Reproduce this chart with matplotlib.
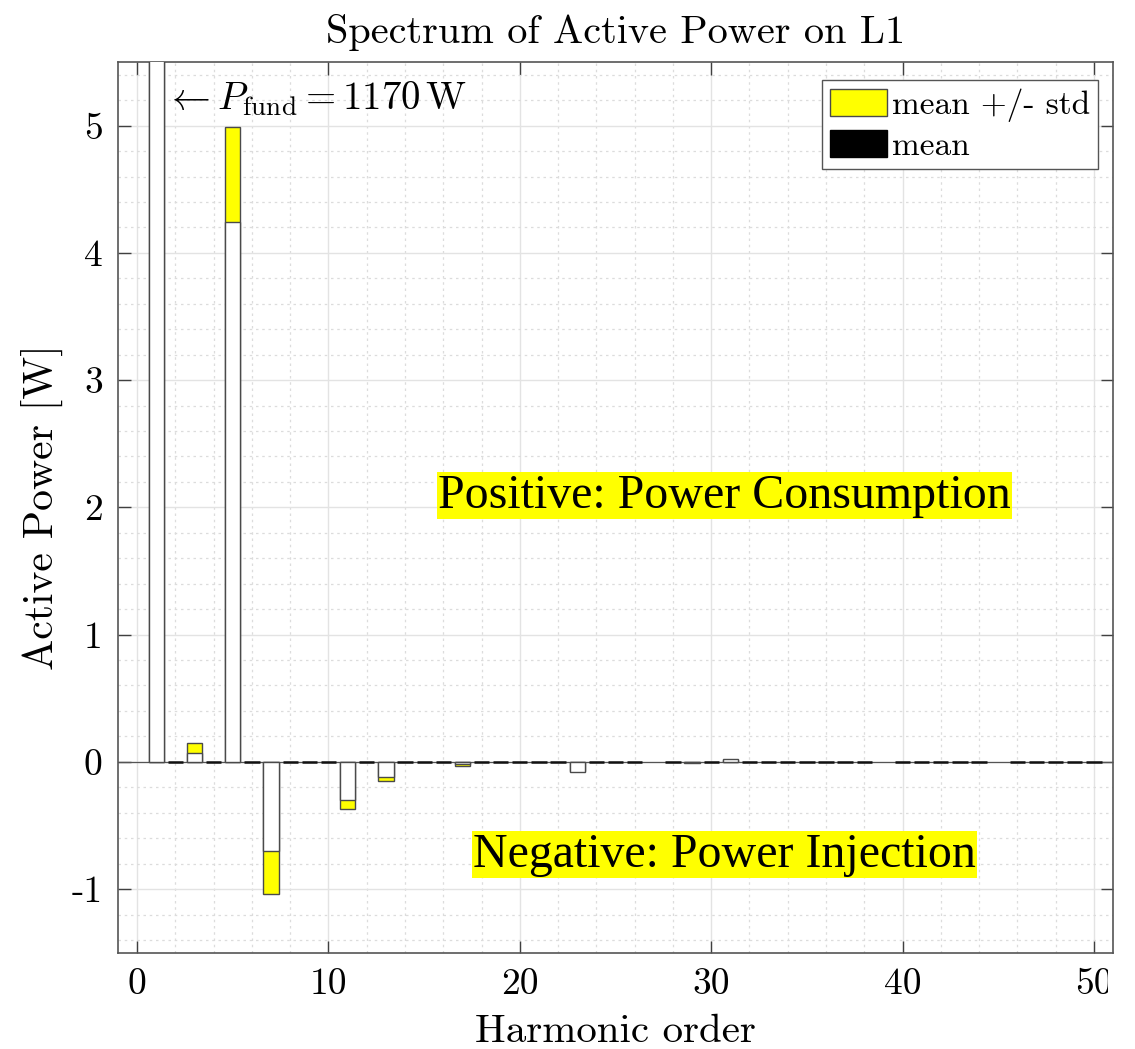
import numpy as np
import matplotlib
matplotlib.use("Agg")
import matplotlib.pyplot as plt
from matplotlib.patches import Patch, Rectangle
from matplotlib.ticker import MultipleLocator

# ---- data ----
harmonics = np.arange(1, 51)
nan = np.nan
# outer value (mean +/- std, yellow) and mean value (white) per harmonic 1..50
outer_vals = [1170, 0, 0.147, 0, 4.99, 0, -1.035, 0, 0, 0,
              -0.37, 0, -0.147, 0, 0, 0, -0.035, 0, 0, 0,
              0, 0, -0.07, 0, 0, 0, nan, 0, -0.012, 0,
              0.018, 0, 0, 0, 0, 0, 0, 0, nan, 0,
              0, 0, 0, 0, nan, 0, 0, 0, 0, 0]
mean_vals = [1170, 0, 0.068, 0, 4.24, 0, -0.70, 0, 0, 0,
             -0.30, 0, -0.12, 0, 0, 0, -0.02, 0, 0, 0,
             0, 0, -0.08, 0, 0, 0, nan, 0, -0.003, 0,
             0.022, 0, 0, 0, 0, 0, 0, 0, nan, 0,
             0, 0, 0, 0, nan, 0, 0, 0, 0, 0]
xticks = [0, 10, 20, 30, 40, 50]
yticks = [-1, 0, 1, 2, 3, 4, 5]
p_fund = 1170

plt.rcParams['axes.unicode_minus'] = False
plt.rcParams['mathtext.fontset'] = 'cm'
CM = 'cmr10'

fig = plt.figure(figsize=(11.35, 10.49), dpi=100)
ax = fig.add_axes([118/1135, 1-952.7/1049, (1113-118)/1135, (952.7-62)/1049])

axcol = '#404040'
ax.set_xlim(-1, 51)
ax.set_ylim(-1.5, 5.5)

ax.set_axisbelow(True)
ax.xaxis.set_minor_locator(MultipleLocator(2))
ax.yaxis.set_minor_locator(MultipleLocator(0.2))
ax.grid(which='major', color='#e3e3e3', lw=1.0, ls='-')
ax.grid(which='minor', color='#dcdcdc', lw=0.9, ls=(0, (2, 3)))

ax.axhline(0, color='#555555', lw=0.9, zorder=1)

outer = np.array(outer_vals, dtype=float)
mean = np.array(mean_vals, dtype=float)
nz = (outer != 0) | np.isnan(outer)
z = outer == 0

ax.bar(harmonics[nz], outer[nz], width=0.8, color='#ffff00', edgecolor='#4a4a4a', lw=1.0, zorder=2)
ax.bar(harmonics[nz], mean[nz], width=0.8, color='white', edgecolor='#4a4a4a', lw=1.0, zorder=3)
# zero-height bars appear as thick dark segments
ax.bar(harmonics[z], mean[z], width=0.8, color='white', edgecolor='#111111', lw=1.8, zorder=3)

ax.set_xticks(xticks)
ax.set_yticks(yticks)
ax.set_xticklabels([str(v) for v in xticks], fontfamily=CM, fontsize=27)
ax.set_yticklabels([str(v) for v in yticks], fontfamily=CM, fontsize=27)
ax.tick_params(which='major', direction='in', length=9, width=1.0, color=axcol,
               top=True, right=True, pad=11)
ax.tick_params(which='minor', length=0)
for s in ax.spines.values():
    s.set_color('#555555')
    s.set_linewidth(1.2)

ax.set_title('Spectrum of Active Power on L1', fontfamily=CM, fontsize=29, pad=14)
ax.set_xlabel('Harmonic order', fontfamily=CM, fontsize=29.5, labelpad=9)
ax.set_ylabel('Active Power [W]', fontfamily=CM, fontsize=30, labelpad=6)

ax.text(1.45, 5.21, r'$\leftarrow P_{\mathrm{fund}} = %d\,\mathrm{W}$' % p_fund,
        fontsize=28, va='center', ha='left', zorder=5)

ax.text(30.7, 2.09, 'Positive: Power Consumption', fontfamily='Liberation Serif',
        fontsize=34.5, ha='center', va='center',
        bbox=dict(facecolor='#ffff00', edgecolor='none', pad=1), zorder=5)
ax.text(30.7, -0.73, 'Negative: Power Injection', fontfamily='Liberation Serif',
        fontsize=34.5, ha='center', va='center',
        bbox=dict(facecolor='#ffff00', edgecolor='none', pad=1), zorder=5)

handles = [Patch(facecolor='#ffff00', edgecolor='#4a4a4a', lw=1.0),
           Patch(facecolor='black', edgecolor='black')]
leg = ax.legend(handles, ['mean +/- std', 'mean'], loc='upper right',
                bbox_to_anchor=(1 - 15/995, 1 - 18/890),
                prop={'family': CM, 'size': 24}, fancybox=False,
                edgecolor='#555555', framealpha=1, borderpad=0.25,
                handlelength=1.7, handleheight=0.85, handletextpad=0.15,
                labelspacing=0.25, borderaxespad=0)
leg.get_frame().set_linewidth(1.0)

# clipped right edge of the image, as in reference
fig.patches.append(Rectangle((1108/1135, 0), 1 - 1108/1135, 1 - 955/1049,
                             transform=fig.transFigure, facecolor='white',
                             edgecolor='none', zorder=10))

fig.savefig('out.png', dpi=100)
